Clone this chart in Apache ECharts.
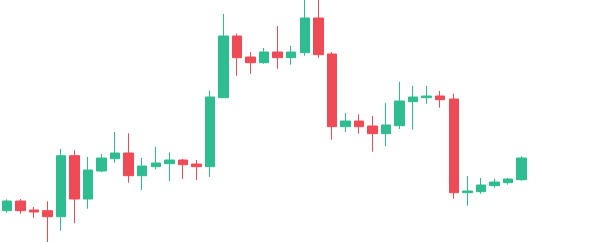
<!DOCTYPE html>
<html>
<head>
<meta charset="utf-8">
<script src="https://cdn.jsdelivr.net/npm/echarts@6/dist/echarts.min.js"></script>
<style>
html,body{margin:0;padding:0;background:#fff;}
#chart{width:607px;height:242px;}
</style>
</head>
<body>
<div id="chart"></div>
<script>
var categories = ['1','2','3','4','5','6','7','8','9','10','11','12','13','14','15','16','17','18','19','20','21','22','23','24','25','26','27','28','29','30','31','32','33','34','35','36','37','38','39','40','41','42','43','44'];
// [open, close, low, high]
var ohlc = [
  [31.3, 41, 29.3, 42.7],
  [41, 31.3, 28.3, 43],
  [32, 30, 24.3, 35],
  [31.3, 25.3, 0, 40.7],
  [25.3, 86.3, 11.3, 93],
  [86.3, 43, 18.7, 91.7],
  [43, 72, 33.3, 85],
  [71, 84, 70, 88],
  [83.3, 89, 79.3, 110],
  [89, 66.3, 59.3, 108.7],
  [66.3, 76, 52, 84],
  [75.3, 79, 72.7, 95.3],
  [78.3, 82, 60.7, 89.7],
  [82, 77.3, 63, 83],
  [78, 75.3, 62, 82],
  [75.3, 145, 65, 151.3],
  [144.3, 206, 144.3, 228],
  [206, 184.3, 166.3, 208.3],
  [185, 179.3, 168.3, 190],
  [179.3, 190, 178.3, 194],
  [190, 184.3, 173.3, 216],
  [184.3, 190, 177.3, 196],
  [189.3, 224, 186.3, 245],
  [224, 187.3, 184.3, 245],
  [188, 115.3, 102.3, 190],
  [115.3, 121, 110, 129],
  [121, 115.3, 108.3, 127.7],
  [116, 108.3, 90.3, 126],
  [108.3, 117, 96, 139],
  [116.3, 141, 113, 160.3],
  [140.3, 145, 112.3, 156],
  [144.3, 146, 138.3, 156],
  [146, 142.3, 134.3, 151],
  [143, 49.3, 43.3, 148.3],
  [49.3, 51, 36.3, 66],
  [50.3, 57, 48.3, 64],
  [56.3, 60, 54.3, 63.3],
  [59.3, 63, 57.3, 64],
  [62.3, 84, 61.3, 85.7]
];
var chart = echarts.init(document.getElementById('chart'), null, {renderer: 'canvas'});
chart.setOption({
  animation: false,
  grid: {left: -1, right: 11, top: 0, bottom: 0},
  xAxis: {
    type: 'category',
    data: categories,
    boundaryGap: true,
    show: false
  },
  yAxis: {
    type: 'value',
    min: 0,
    max: 242,
    show: false,
    splitLine: {show: false}
  },
  series: [{
    type: 'candlestick',
    data: ohlc,
    barWidth: 10,
    clip: false,
    itemStyle: {
      color: '#2ebd91',
      color0: '#ef4b56',
      borderColor: '#2ebd91',
      borderColor0: '#ef4b56',
      borderWidth: 1
    }
  }]
});
</script>
</body>
</html>
